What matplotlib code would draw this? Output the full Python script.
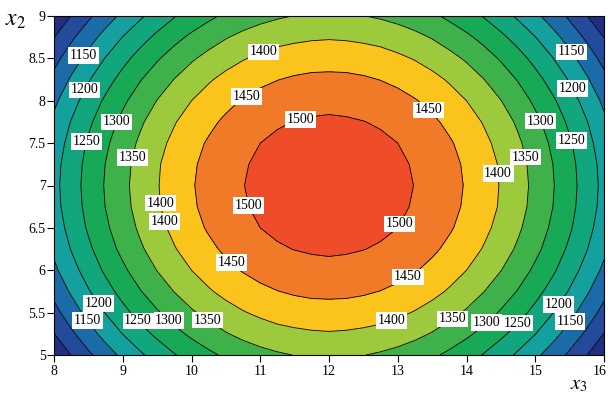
import matplotlib
matplotlib.use("Agg")
import matplotlib.pyplot as plt
from matplotlib.transforms import ScaledTranslation
import numpy as np

plt.rcParams['font.family'] = ['Liberation Serif', 'DejaVu Serif']
plt.rcParams['mathtext.fontset'] = 'stix'

# grid coordinates
x3_vals = [8, 8.25, 8.5, 8.75, 9, 9.25, 9.5, 9.75, 10, 10.25, 10.5, 10.75, 11, 11.25, 11.5, 11.75,
           12, 12.25, 12.5, 12.75, 13, 13.25, 13.5, 13.75, 14, 14.25, 14.5, 14.75, 15, 15.25, 15.5, 15.75, 16]
x2_vals = [5, 5.25, 5.5, 5.75, 6, 6.25, 6.5, 6.75, 7, 7.25, 7.5, 7.75, 8, 8.25, 8.5, 8.75, 9]

# response values (one row per x2 value)
r500 = [1009, 1051, 1091, 1127, 1161, 1192, 1221, 1247, 1270, 1290, 1308, 1323, 1335, 1344, 1351, 1355, 1356,
        1355, 1351, 1344, 1335, 1323, 1308, 1290, 1270, 1247, 1221, 1192, 1161, 1127, 1091, 1051, 1009]
r525 = [1049, 1091, 1130, 1167, 1201, 1232, 1260, 1286, 1309, 1329, 1347, 1362, 1374, 1384, 1390, 1394, 1396,
        1394, 1390, 1384, 1374, 1362, 1347, 1329, 1309, 1286, 1260, 1232, 1201, 1167, 1130, 1091, 1049]
r550 = [1084, 1126, 1165, 1202, 1236, 1267, 1295, 1321, 1344, 1364, 1382, 1397, 1409, 1419, 1425, 1430, 1431,
        1430, 1425, 1419, 1409, 1397, 1382, 1364, 1344, 1321, 1295, 1267, 1236, 1202, 1165, 1126, 1084]
r575 = [1114, 1156, 1196, 1232, 1266, 1297, 1326, 1351, 1375, 1395, 1413, 1427, 1440, 1449, 1456, 1460, 1461,
        1460, 1456, 1449, 1440, 1427, 1413, 1395, 1375, 1351, 1326, 1297, 1266, 1232, 1196, 1156, 1114]
r600 = [1140, 1182, 1221, 1258, 1291, 1323, 1351, 1377, 1400, 1420, 1438, 1453, 1465, 1475, 1481, 1485, 1487,
        1485, 1481, 1475, 1465, 1453, 1438, 1420, 1400, 1377, 1351, 1323, 1291, 1258, 1221, 1182, 1140]
r625 = [1160, 1202, 1241, 1278, 1312, 1343, 1371, 1397, 1420, 1440, 1458, 1473, 1485, 1495, 1501, 1505, 1507,
        1505, 1501, 1495, 1485, 1473, 1458, 1440, 1420, 1397, 1371, 1343, 1312, 1278, 1241, 1202, 1160]
r650 = [1174, 1216, 1256, 1292, 1326, 1357, 1386, 1411, 1435, 1455, 1473, 1487, 1500, 1509, 1516, 1520, 1521,
        1520, 1516, 1509, 1500, 1487, 1473, 1455, 1435, 1411, 1386, 1357, 1326, 1292, 1256, 1216, 1174]
r675 = [1183, 1225, 1264, 1301, 1335, 1366, 1395, 1420, 1443, 1464, 1481, 1496, 1508, 1518, 1525, 1529, 1530,
        1529, 1525, 1518, 1508, 1496, 1481, 1464, 1443, 1420, 1395, 1366, 1335, 1301, 1264, 1225, 1183]
r700 = [1186, 1228, 1267, 1304, 1338, 1369, 1397, 1423, 1446, 1467, 1484, 1499, 1511, 1521, 1528, 1532, 1533,
        1532, 1528, 1521, 1511, 1499, 1484, 1467, 1446, 1423, 1397, 1369, 1338, 1304, 1267, 1228, 1186]
r725 = [1183, 1225, 1264, 1301, 1335, 1366, 1395, 1420, 1443, 1464, 1481, 1496, 1508, 1518, 1525, 1529, 1530,
        1529, 1525, 1518, 1508, 1496, 1481, 1464, 1443, 1420, 1395, 1366, 1335, 1301, 1264, 1225, 1183]
r750 = [1174, 1216, 1256, 1292, 1326, 1357, 1386, 1411, 1435, 1455, 1473, 1487, 1500, 1509, 1516, 1520, 1521,
        1520, 1516, 1509, 1500, 1487, 1473, 1455, 1435, 1411, 1386, 1357, 1326, 1292, 1256, 1216, 1174]
r775 = [1160, 1202, 1241, 1278, 1312, 1343, 1371, 1397, 1420, 1440, 1458, 1473, 1485, 1495, 1501, 1505, 1507,
        1505, 1501, 1495, 1485, 1473, 1458, 1440, 1420, 1397, 1371, 1343, 1312, 1278, 1241, 1202, 1160]
r800 = [1140, 1182, 1221, 1258, 1291, 1323, 1351, 1377, 1400, 1420, 1438, 1453, 1465, 1475, 1481, 1485, 1487,
        1485, 1481, 1475, 1465, 1453, 1438, 1420, 1400, 1377, 1351, 1323, 1291, 1258, 1221, 1182, 1140]
r825 = [1114, 1156, 1196, 1232, 1266, 1297, 1326, 1351, 1375, 1395, 1413, 1427, 1440, 1449, 1456, 1460, 1461,
        1460, 1456, 1449, 1440, 1427, 1413, 1395, 1375, 1351, 1326, 1297, 1266, 1232, 1196, 1156, 1114]
r850 = [1084, 1126, 1165, 1202, 1236, 1267, 1295, 1321, 1344, 1364, 1382, 1397, 1409, 1419, 1425, 1430, 1431,
        1430, 1425, 1419, 1409, 1397, 1382, 1364, 1344, 1321, 1295, 1267, 1236, 1202, 1165, 1126, 1084]
r875 = [1049, 1091, 1130, 1167, 1201, 1232, 1260, 1286, 1309, 1329, 1347, 1362, 1374, 1384, 1390, 1394, 1396,
        1394, 1390, 1384, 1374, 1362, 1347, 1329, 1309, 1286, 1260, 1232, 1201, 1167, 1130, 1091, 1049]
r900 = [1009, 1051, 1091, 1127, 1161, 1192, 1221, 1247, 1270, 1290, 1308, 1323, 1335, 1344, 1351, 1355, 1356,
        1355, 1351, 1344, 1335, 1323, 1308, 1290, 1270, 1247, 1221, 1192, 1161, 1127, 1091, 1051, 1009]

fill_levels = [1000, 1050, 1100, 1150, 1200, 1250, 1300, 1350, 1400, 1450, 1500, 1550]
line_levels = [1050, 1100, 1150, 1200, 1250, 1300, 1350, 1400, 1450, 1500]
band_colors = ['#222f80', '#244a9b', '#1b6ba8', '#15a0a0', '#11a67e', '#17a955',
               '#3eb14a', '#9dc93d', '#fbc41c', '#f17a29', '#ef4d29']

# label positions (x3, x2) per level
label_pos = {
    1150: [(8.42, 8.54), (15.53, 8.58), (8.42, 5.37), (15.55, 5.37)],
    1200: [(8.42, 8.14), (15.53, 8.14), (8.61, 5.59), (15.37, 5.58)],
    1250: [(8.42, 7.53), (15.53, 7.53), (9.18, 5.37), (14.75, 5.37)],
    1300: [(8.89, 7.76), (15.08, 7.76), (9.63, 5.37), (14.31, 5.37)],
    1350: [(9.10, 7.34), (14.88, 7.34), (10.2, 5.37), (13.85, 5.37)],
    1400: [(11.04, 8.60), (9.50, 6.79), (9.54, 6.56), (14.44, 7.14), (12.93, 5.35)],
    1450: [(10.79, 8.06), (13.44, 7.89), (10.53, 6.05), (13.18, 5.88)],
    1500: [(11.58, 7.78), (10.75, 6.75), (13.0, 6.56)],
}

Z = np.array([r500, r525, r550, r575, r600, r625, r650, r675, r700,
              r725, r750, r775, r800, r825, r850, r875, r900], dtype=float)
X, Y = np.meshgrid(x3_vals, x2_vals)

fig = plt.figure(figsize=(6.08, 3.94), dpi=100)
ax = fig.add_axes([54/608, 39/394, 550/608, 339/394])

ax.contourf(X, Y, Z, levels=fill_levels, colors=band_colors)

for lev in line_levels:
    cs = ax.contour(X, Y, Z, levels=[lev], colors='black', linewidths=0.6)
    pts = label_pos.get(lev)
    if pts:
        texts = ax.clabel(cs, manual=pts, inline=False, fontsize=10, fmt='%d')
        for t in texts:
            t.set_rotation(0)
            t.set_bbox(dict(boxstyle='square,pad=0.12', fc='white', ec='none'))

ax.set_xlim(8, 16)
ax.set_ylim(5, 9)
ax.set_xticks([8, 9, 10, 11, 12, 13, 14, 15, 16])
ax.set_xticklabels(['8', '9', '10', '11', '12', '13', '14', '15', '16'])
ax.set_yticks([5, 5.5, 6, 6.5, 7, 7.5, 8, 8.5, 9])
ax.set_yticklabels(['5', '5.5', '6', '6.5', '7', '7.5', '8', '8.5', '9'])
ax.tick_params(direction='out', length=5, width=0.8, labelsize=10, top=False, right=False)
ax.tick_params(axis='x', pad=2)
ax.tick_params(axis='y', pad=1)
for s in ax.spines.values():
    s.set_linewidth(0.8)
    s.set_color('black')

last = ax.xaxis.get_majorticklabels()[-1]
last.set_transform(last.get_transform() + ScaledTranslation(-4/100, 0, fig.dpi_scale_trans))

fig.text(0.008, 0.975, '$x_2$', fontsize=17, va='top', ha='left')
fig.text(0.938, 0.0, '$x_3$', fontsize=15, va='bottom', ha='left')

fig.savefig('out.png', dpi=100)
